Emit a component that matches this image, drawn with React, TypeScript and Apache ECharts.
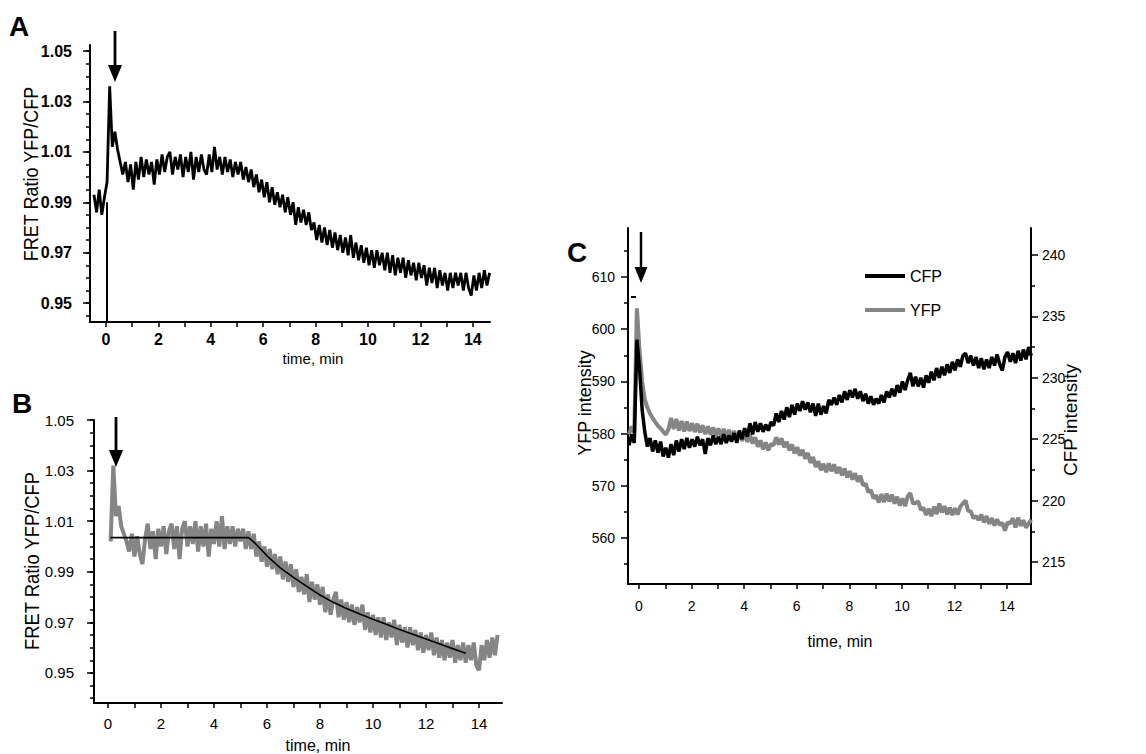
import React, { useEffect, useRef } from "react";
import * as echarts from "echarts";

const FONT = "'Liberation Sans', Arial, Helvetica, sans-serif";

// ---------- Panel A: FRET ratio (sampled every 0.1 min from -0.46 min)
const A_T0 = -0.46;
const A_DT = 0.1;
const A_RATIO = [
  0.993, 0.986, 0.995, 0.985, 0.992,
  0.998, 1.036, 1.012, 1.018, 1.011, 1.006, 1.001, 1.006, 0.998, 1.005,
  0.995, 1.006, 0.999, 1.008, 1.000, 1.007, 1.001, 1.006, 0.997, 1.007,
  1.001, 1.009, 1.002, 1.008, 1.010, 1.001, 1.008, 1.003, 1.009, 1.000,
  1.008, 1.002, 1.010, 0.999, 1.008, 1.002, 1.009, 1.003, 1.001, 1.009,
  1.002, 1.012, 1.003, 1.008, 1.001, 1.008, 1.002, 1.007, 1.000, 1.006,
  1.001, 1.006, 0.999, 1.004, 0.998, 1.003, 0.996, 1.001, 0.994, 0.999,
  0.992, 0.998, 0.990, 0.996, 0.989, 0.994, 0.988, 0.993, 0.986, 0.992,
  0.985, 0.990, 0.981, 0.988, 0.982, 0.987, 0.981, 0.986, 0.979, 0.982,
  0.975, 0.981, 0.974, 0.980, 0.973, 0.979, 0.972, 0.978, 0.971, 0.977,
  0.970, 0.976, 0.969, 0.977, 0.968, 0.974, 0.967, 0.973, 0.966, 0.972,
  0.965, 0.971, 0.964, 0.971, 0.965, 0.970, 0.963, 0.970, 0.962, 0.969,
  0.961, 0.968, 0.962, 0.968, 0.960, 0.967, 0.961, 0.966, 0.959, 0.966,
  0.960, 0.965, 0.957, 0.964, 0.958, 0.964, 0.956, 0.963, 0.957, 0.962,
  0.955, 0.962, 0.956, 0.962, 0.957, 0.962, 0.955, 0.962, 0.956, 0.953,
  0.961, 0.955, 0.962, 0.956, 0.963, 0.957, 0.962,
];
// vertical drop line at stimulation
const A_DROP_T = 0.04;
const A_DROP_FROM = 0.9425;
const A_DROP_TO = 0.99;

// ---------- Panel B: FRET ratio + fit (sampled every 0.1 min from 0.1 min)
const B_T0 = 0.1;
const B_DT = 0.1;
const B_RATIO = [
  1.002, 1.032, 1.012, 1.016, 1.008, 1.005, 1.002, 0.998, 1.005, 0.996,
  1.004, 0.997, 0.993, 1.003, 1.009, 0.999, 1.006, 0.995, 1.007, 1.000,
  1.008, 0.997, 1.006, 1.009, 0.999, 1.008, 0.995, 1.007, 1.010, 1.000,
  1.008, 1.001, 1.010, 0.998, 1.008, 1.000, 1.009, 0.996, 1.007, 1.001,
  1.010, 1.000, 1.012, 0.999, 1.008, 1.001, 1.008, 1.000, 1.007, 1.002,
  1.007, 0.999, 1.006, 0.999, 1.005, 0.996, 1.002, 0.994, 1.000, 0.992,
  0.999, 0.991, 0.997, 0.989, 0.996, 0.987, 0.994, 0.986, 0.993, 0.984,
  0.991, 0.982, 0.988, 0.981, 0.989, 0.978, 0.986, 0.979, 0.985, 0.977,
  0.984, 0.974, 0.981, 0.973, 0.979, 0.982, 0.972, 0.979, 0.971, 0.978,
  0.970, 0.977, 0.969, 0.976, 0.970, 0.977, 0.967, 0.974, 0.966, 0.973,
  0.965, 0.972, 0.964, 0.972, 0.963, 0.970, 0.964, 0.971, 0.961, 0.969,
  0.962, 0.968, 0.960, 0.968, 0.961, 0.967, 0.959, 0.966, 0.958, 0.965,
  0.959, 0.966, 0.957, 0.964, 0.956, 0.963, 0.955, 0.962, 0.956, 0.963,
  0.954, 0.961, 0.955, 0.962, 0.954, 0.961, 0.955, 0.962, 0.953, 0.951,
  0.961, 0.955, 0.963, 0.956, 0.964, 0.957, 0.965,
];
const B_FIT_T = [0.1, 5.3, 5.5, 6.0, 6.5, 7.0, 7.5, 8.0, 8.5, 9.0, 9.5, 10.0, 10.5, 11.0, 11.5, 12.0, 12.5, 13.0, 13.5];
const B_FIT_V = [1.0035, 1.0035, 1.0018, 0.9963, 0.9915, 0.9878, 0.9842, 0.9808, 0.9779, 0.9755, 0.9733, 0.9712, 0.9692, 0.9672, 0.9653, 0.9634, 0.9615, 0.9596, 0.9578];

// ---------- Panel C: CFP / YFP intensities (sampled every 0.1 min from -0.38 min)
const C_T0 = -0.38;
const C_DT = 0.1;
const C_CFP = [
  224.5, 225.4, 224.7, 233.1, 230.8, 227.4, 225.6, 224.4, 225.1, 224.0,
  224.9, 223.9, 224.8, 223.6, 224.3, 223.5, 224.6, 223.7, 224.9, 224.0,
  225.0, 224.2, 225.1, 224.3, 225.0, 224.4, 225.2, 224.5, 225.0, 223.8,
  225.1, 224.5, 225.3, 224.6, 225.2, 224.6, 225.4, 224.7, 225.3, 224.8,
  225.5, 224.7, 225.7, 225.0, 225.9, 225.2, 226.3, 225.4, 226.4, 225.6,
  226.3, 225.6, 226.2, 225.7, 226.4, 226.1, 227.1, 226.4, 227.3, 226.6,
  227.6, 226.8, 227.8, 227.0, 227.9, 227.3, 228.1, 227.4, 228.0, 227.2,
  227.9, 226.9, 227.9, 227.0, 227.7, 227.1, 228.2, 227.8, 228.4, 227.8,
  228.6, 228.0, 228.9, 228.2, 229.0, 228.4, 229.1, 228.3, 228.9, 228.1,
  228.7, 227.9, 228.5, 227.8, 228.3, 227.9, 228.6, 228.0, 228.9, 228.4,
  229.1, 228.5, 229.4, 228.8, 229.7, 229.0, 229.8, 230.4, 229.3, 230.1,
  229.3, 230.0, 229.2, 230.2, 229.6, 230.5, 229.8, 230.8, 230.0, 230.9,
  230.2, 231.1, 230.4, 231.3, 230.6, 231.5, 230.9, 231.8, 232.0, 231.2,
  231.8, 231.0, 231.7, 230.8, 231.6, 230.7, 231.5, 230.8, 231.7, 231.0,
  231.9, 231.1, 230.6, 231.7, 232.1, 231.3, 232.0, 231.2, 232.2, 231.4,
  232.3, 231.5, 232.5, 231.8,
];
const C_YFP = [
  579.8, 581.4, 580.2, 604.0, 596.0, 590.0, 586.5, 585.0, 583.8, 583.0,
  582.2, 581.5, 581.0, 580.4, 579.8, 580.8, 583.0, 580.9, 582.8, 580.6,
  582.4, 580.4, 582.3, 580.5, 582.0, 580.3, 581.9, 580.2, 581.6, 579.9,
  581.4, 579.8, 581.2, 579.6, 581.0, 579.4, 580.9, 579.3, 580.7, 579.2,
  580.5, 579.0, 580.3, 578.6, 580.0, 578.4, 579.8, 578.1, 579.3, 577.5,
  578.7, 577.0, 578.3, 576.8, 578.0, 577.8, 579.3, 577.9, 579.1, 577.4,
  578.4, 576.8, 577.9, 576.2, 577.4, 575.8, 576.9, 575.2, 576.3, 574.4,
  575.5, 573.6, 574.7, 573.0, 574.2, 572.6, 574.3, 572.8, 574.1, 572.4,
  573.6, 572.0, 573.3, 571.6, 572.8, 571.2, 572.4, 570.8, 571.9, 570.1,
  570.4, 568.8, 569.2, 567.6, 568.2, 566.8, 568.4, 566.9, 568.5, 567.0,
  568.3, 566.6, 567.9, 566.2, 567.6, 566.1, 568.0, 568.6, 566.6, 566.7,
  567.0, 565.4, 565.8, 564.4, 565.6, 564.2, 566.0, 564.6, 566.6, 564.9,
  566.1, 564.5, 565.8, 564.4, 565.7, 564.5, 566.0, 566.6, 567.2, 565.2,
  565.1, 563.8, 564.2, 563.4, 564.5, 563.0, 564.2, 562.7, 563.8, 562.4,
  563.6, 562.5, 562.9, 561.4, 563.0, 562.8, 563.8, 562.0, 563.9, 562.3,
  563.4, 562.0, 562.8, 563.5,
];

// ---------- Ticks
const X_TICKS = [0, 1, 2, 3, 4, 5, 6, 7, 8, 9, 10, 11, 12, 13, 14];
const X_LABELS = [0, 2, 4, 6, 8, 10, 12, 14];
const RATIO_LABELS = [0.95, 0.97, 0.99, 1.01, 1.03, 1.05];
const RATIO_MINOR = [0.94, 0.945, 0.95, 0.955, 0.96, 0.965, 0.97, 0.975, 0.98, 0.985, 0.99, 0.995, 1.0, 1.005, 1.01, 1.015, 1.02, 1.025, 1.03, 1.035, 1.04, 1.045, 1.05];
const YFP_LABELS = [560, 570, 580, 590, 600, 610];
const YFP_MINOR = [555, 565, 575, 585, 595, 605, 615];
const CFP_LABELS = [215, 220, 225, 230, 235, 240];
const CFP_MINOR = [217.5, 222.5, 227.5, 232.5, 237.5];

const pairs = (t0: number, dt: number, vals: number[]) =>
  vals.map((v, i) => [Math.round((t0 + i * dt) * 1000) / 1000, v]);

const GRAY = "#858585";

function xAxis(grid: number, min: number, max: number, fontSize: number, bold: boolean, margin: number) {
  return {
    type: "value",
    gridIndex: grid,
    min,
    max,
    position: "bottom",
    axisLine: { show: true, onZero: false, lineStyle: { color: "#000", width: 2 } },
    axisTick: { show: true, inside: false, length: 5, customValues: X_TICKS, lineStyle: { color: "#000", width: 1.5 } },
    axisLabel: {
      show: true,
      customValues: X_LABELS,
      margin,
      color: "#000",
      fontSize,
      fontWeight: bold ? "bold" : "normal",
      fontFamily: FONT,
    },
    splitLine: { show: false },
  };
}

function yMain(grid: number, min: number, max: number, position: string, labels: number[], fontSize: number, bold: boolean, margin: number, digits: number) {
  return {
    type: "value",
    gridIndex: grid,
    min,
    max,
    position,
    axisLine: { show: true, onZero: false, lineStyle: { color: "#000", width: 2 } },
    axisTick: { show: true, inside: false, length: 7, customValues: labels, lineStyle: { color: "#000", width: 1.5 } },
    axisLabel: {
      show: true,
      customValues: labels,
      margin,
      color: "#000",
      fontSize,
      fontWeight: bold ? "bold" : "normal",
      fontFamily: FONT,
      formatter: (v: number) => v.toFixed(digits),
    },
    splitLine: { show: false },
  };
}

function yMinor(grid: number, min: number, max: number, position: string, ticks: number[]) {
  return {
    type: "value",
    gridIndex: grid,
    min,
    max,
    position,
    axisLine: { show: false, onZero: false },
    axisTick: { show: true, inside: false, length: 4, customValues: ticks, lineStyle: { color: "#000", width: 1.5 } },
    axisLabel: { show: false },
    splitLine: { show: false },
  };
}

function arrow(x: number, yTop: number, yTip: number, headH: number, halfW: number, lw: number) {
  return [
    { type: "line", z: 20, shape: { x1: x, y1: yTop, x2: x, y2: yTip - headH + 2 }, style: { stroke: "#000", lineWidth: lw } },
    { type: "polygon", z: 20, shape: { points: [[x - halfW, yTip - headH], [x + halfW, yTip - headH], [x, yTip]] }, style: { fill: "#000" } },
  ];
}

function vText(text: string, x: number, y: number, fontSize: number, sx: number) {
  return {
    type: "text",
    z: 20,
    x,
    y,
    rotation: Math.PI / 2,
    scaleX: sx,
    style: { text, fontSize, fontFamily: FONT, fill: "#000", align: "center", verticalAlign: "middle" },
  };
}

function hText(text: string, x: number, y: number, fontSize: number, bold = false) {
  return {
    type: "text",
    z: 20,
    x,
    y,
    style: { text, fontSize, fontWeight: bold ? "bold" : "normal", fontFamily: FONT, fill: "#000", align: "center", verticalAlign: "middle" },
  };
}

function letter(text: string, x: number, y: number) {
  return {
    type: "text",
    z: 20,
    x,
    y,
    style: { text, fontSize: 28, fontWeight: "bold", fontFamily: FONT, fill: "#000", align: "left", verticalAlign: "top" },
  };
}

export default function App() {
  const ref = useRef<HTMLDivElement>(null);

  useEffect(() => {
    if (!ref.current) return;
    const chart = echarts.init(ref.current, null, { renderer: "svg" });

    const option: any = {
      animation: false,
      backgroundColor: "#fff",
      textStyle: { fontFamily: FONT },
      grid: [
        { left: 90, top: 45, width: 400, height: 277, outerBoundsMode: "none", containLabel: false },
        { left: 94, top: 420, width: 408, height: 283, outerBoundsMode: "none", containLabel: false },
        { left: 628, top: 228, width: 403, height: 356, outerBoundsMode: "none", containLabel: false },
      ],
      xAxis: [
        xAxis(0, -0.611, 14.656, 16, true, 9),
        xAxis(1, -0.528, 14.868, 15, false, 13),
        xAxis(2, -0.418, 14.91, 14, false, 15),
      ],
      yAxis: [
        yMain(0, 0.9425, 1.0524, "left", RATIO_LABELS, 16, true, 18, 2),
        yMinor(0, 0.9425, 1.0524, "left", RATIO_MINOR),
        yMain(1, 0.9381, 1.05, "left", RATIO_LABELS, 15, false, 20, 2),
        yMinor(1, 0.9381, 1.05, "left", RATIO_MINOR),
        yMain(2, 551.19, 619.39, "left", YFP_LABELS, 14, false, 13, 0),
        yMinor(2, 551.19, 619.39, "left", YFP_MINOR),
        yMain(2, 213.21, 242.2, "right", CFP_LABELS, 14, false, 11, 0),
        yMinor(2, 213.21, 242.2, "right", CFP_MINOR),
      ],
      legend: {
        data: ["CFP", "YFP"],
        orient: "vertical",
        left: 865,
        top: 268,
        padding: 0,
        itemWidth: 40,
        itemHeight: 4,
        itemGap: 18,
        icon: "rect",
        selectedMode: false,
        textStyle: { fontSize: 16, color: "#000", fontFamily: FONT },
      },
      series: [
        {
          name: "FRET ratio A",
          type: "line",
          xAxisIndex: 0,
          yAxisIndex: 0,
          data: pairs(A_T0, A_DT, A_RATIO),
          showSymbol: false,
          symbol: "none",
          silent: true,
          color: "#000",
          lineStyle: { color: "#000", width: 2.8 },
          markLine: {
            silent: true,
            symbol: "none",
            label: { show: false },
            lineStyle: { color: "#000", width: 2, type: "solid" },
            data: [[{ coord: [A_DROP_T, A_DROP_FROM] }, { coord: [A_DROP_T, A_DROP_TO] }]],
          },
        },
        {
          name: "FRET ratio B",
          type: "line",
          xAxisIndex: 1,
          yAxisIndex: 2,
          data: pairs(B_T0, B_DT, B_RATIO),
          showSymbol: false,
          symbol: "none",
          silent: true,
          color: GRAY,
          lineStyle: { color: GRAY, width: 4 },
        },
        {
          name: "Fit B",
          type: "line",
          xAxisIndex: 1,
          yAxisIndex: 2,
          data: B_FIT_T.map((t, i) => [t, B_FIT_V[i]]),
          showSymbol: false,
          symbol: "none",
          silent: true,
          z: 5,
          color: "#000",
          lineStyle: { color: "#000", width: 1.6 },
        },
        {
          name: "YFP",
          type: "line",
          xAxisIndex: 2,
          yAxisIndex: 4,
          data: pairs(C_T0, C_DT, C_YFP),
          showSymbol: false,
          symbol: "none",
          silent: true,
          color: GRAY,
          lineStyle: { color: GRAY, width: 4 },
        },
        {
          name: "CFP",
          type: "line",
          xAxisIndex: 2,
          yAxisIndex: 6,
          data: pairs(C_T0, C_DT, C_CFP),
          showSymbol: false,
          symbol: "none",
          silent: true,
          z: 5,
          color: "#000",
          lineStyle: { color: "#000", width: 3.5 },
        },
      ],
      graphic: [
        letter("A", 9, 12),
        letter("B", 12, 389),
        letter("C", 567, 238),
        ...arrow(115, 31, 82, 17, 7, 2.8),
        ...arrow(116, 417, 467, 17, 7, 2.8),
        ...arrow(641, 232, 283, 16, 6.5, 2.5),
        vText("FRET Ratio YFP/CFP", 31, 174, 20, 0.9),
        vText("FRET Ratio YFP/CFP", 32, 561, 20, 0.92),
        vText("YFP intensity", 585, 403, 18, 1),
        vText("CFP intensity", 1071, 420, 18, 1.05),
        hText("time, min", 313, 358, 15),
        hText("time, min", 318, 745, 16),
        hText("time, min", 840, 641, 16),
        { type: "rect", z: 20, shape: { x: 631, y: 296, width: 5, height: 2 }, style: { fill: "#000" } },
      ],
    };

    chart.setOption(option);
    return () => chart.dispose();
  }, []);

  return (
    <div
      ref={ref}
      style={{ position: "fixed", left: 0, top: 0, width: 1146, height: 754, background: "#fff" }}
    />
  );
}
